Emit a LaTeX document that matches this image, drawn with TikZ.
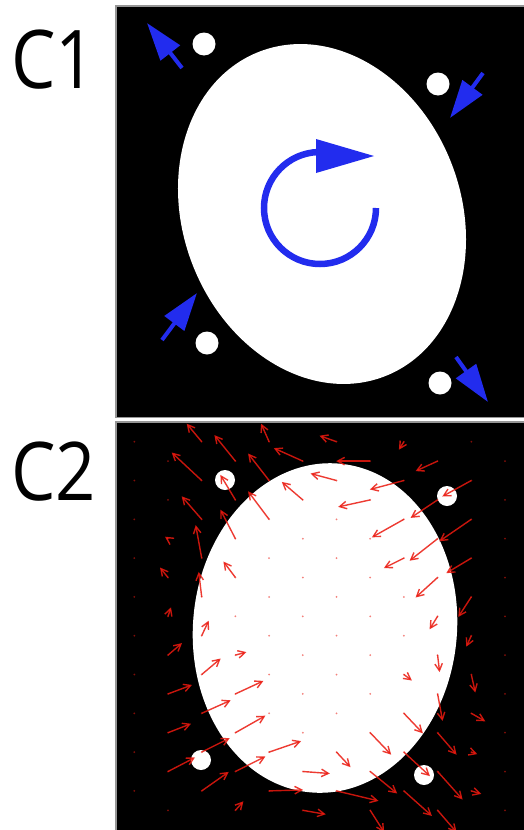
\documentclass[tikz,border=0pt]{standalone}
\usepackage{fontspec}
\setmainfont{Open Sans}
\usetikzlibrary{arrows.meta}
\definecolor{cblue}{RGB}{34,44,238}
\definecolor{qred}{RGB}{235,25,15}
\definecolor{frame}{RGB}{150,150,150}
\begin{document}
\begin{tikzpicture}[x=1pt,y=-1pt,
  panel/.style={fill=black},
  edge/.style={frame,line width=1.5pt},
  blob/.style={fill=white},
  label/.style={anchor=base west,inner sep=0pt,font=\fontsize{81}{81}\selectfont,xscale=0.87,transform shape},
  barrow/.style={cblue,line width=4pt,-{Triangle[length=38pt,width=24pt]}},
  qarrow/.style={qred,draw opacity=0.85,line width=1.4pt,-{Straight Barb[length=7pt,width=7.5pt]}},
  qdot/.style={fill=qred,fill opacity=0.55}]
\useasboundingbox (0,0) rectangle (524,830);
\fill[white] (0,0) rectangle (524,830);

% ---------- panel C1 ----------
\fill[panel] (115,5) rectangle (524,418);
\draw[edge] (115.75,418) -- (115.75,5.75) -- (524,5.75);
\draw[edge] (115,417.25) -- (524,417.25);
\node[label] (c1) at (11,88) {C1};
\fill[blob,rotate around={21:(322,214)}] (322,214) ellipse [x radius=139, y radius=174];
\fill[blob] (204,44) circle (11.5);
\fill[blob] (438,84) circle (11.5);
\fill[blob] (207,343) circle (11.5);
\fill[blob] (440,383) circle (11.5);
\coordinate (a1s) at (182,68);  \coordinate (a1e) at (147,23);
\coordinate (a2s) at (483,73);  \coordinate (a2e) at (450,118);
\coordinate (a3s) at (162,340); \coordinate (a3e) at (197,293);
\coordinate (a4s) at (456,357); \coordinate (a4e) at (488,402);
\draw[barrow] (a1s) -- (a1e);
\draw[barrow] (a2s) -- (a2e);
\draw[barrow] (a3s) -- (a3e);
\draw[barrow] (a4s) -- (a4e);
\draw[cblue,line width=6.5pt] (376,208) arc[start angle=0,end angle=268,radius=56];
\fill[cblue] (316,139) -- (374,156) -- (316,173) -- cycle;

% ---------- panel C2 ----------
\fill[panel] (115,421) rectangle (524,830);
\draw[edge] (115.75,830) -- (115.75,421.75) -- (524,421.75);
\node[label] (c2) at (11,500) {C2};
\begin{scope}
\clip (116.5,422.5) rectangle (524,830);
\fill[blob,rotate around={-5:(325,628)}] (325,628) ellipse [x radius=132, y radius=165];
\fill[blob] (225,480) circle (10);
\fill[blob] (447,496) circle (10);
\fill[blob] (201,760) circle (10);
\fill[blob] (424,775) circle (10);
\foreach \i in {0,...,11}{
  \foreach \j in {0,...,9}{
    \pgfmathsetmacro\xx{134.3+33.7*\i}
    \pgfmathsetmacro\yy{441.7+38.8*\j+19.4*mod(\i,2)}
    \fill[qdot] (\xx,\yy) circle (1);
  }
}
\foreach \i/\j/\u/\v in {
  1/2/-3/-2, 1/3/-8/-10, 1/4/3/-9, 1/5/14/-12, 1/6/24/-9, 1/7/23/-9, 1/8/27/-14,
  2/0/-15/-18, 2/1/-30/-28, 2/2/-20/-23, 2/3/-6/-33, 2/4/-3/-25, 2/5/7/-15, 2/6/19/-16, 2/7/29/-13, 2/8/28/-14, 2/9/27/-19,
  3/0/-21/-26, 3/1/-15/-25, 3/2/-15/-29, 3/3/-12/-16, 3/5/11/-3, 3/6/28/-13, 3/7/30/-17, 3/8/30/-15, 3/9/8/-9,
  4/0/-8/-18, 4/1/-21/-27, 4/2/-21/-28, 4/8/32/-11, 4/9/34/-1,
  5/0/-29/-13, 5/1/-21/-18, 5/8/27/2, 5/9/23/4,
  6/0/-17/-6, 6/1/-26/-7, 6/8/14/15, 6/9/42/10,
  7/0/-34/0, 7/1/-32/7, 7/7/21/22, 7/8/27/22, 7/9/14/22,
  8/0/-5/8, 8/1/-34/9, 8/2/-32/18, 8/3/-20/10, 8/6/8/6, 8/7/19/20, 8/8/26/24, 8/9/28/25,
  9/0/-22/10, 9/1/-27/18, 9/2/-28/22, 9/3/-22/20, 9/4/-8/13, 9/5/2/17, 9/6/5/27, 9/7/19/22, 9/8/25/28, 9/9/19/22,
  10/1/-29/16, 10/2/-32/22, 10/3/-25/15, 10/4/-13/20, 10/5/-5/11, 10/6/4/18, 10/7/14/8, 10/8/6/2, 10/9/10/3}{
    \pgfmathsetmacro\xx{134.3+33.7*\i}
    \pgfmathsetmacro\yy{441.7+38.8*\j+19.4*mod(\i,2)}
    \draw[qarrow] (\xx,\yy) -- ++(\u,\v);
}
\end{scope}
\end{tikzpicture}
\end{document}
